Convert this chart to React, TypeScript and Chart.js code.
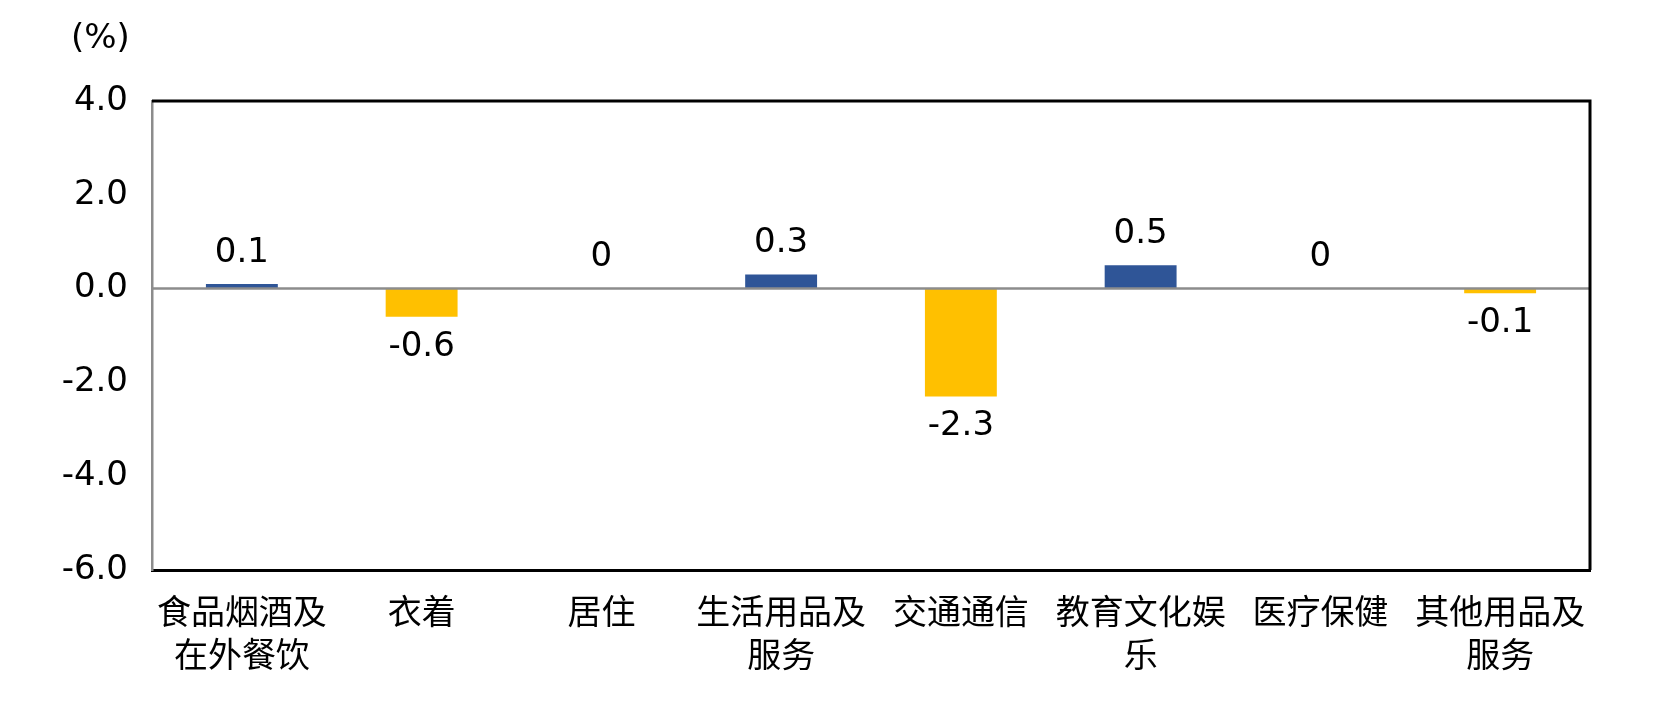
import React, { useEffect, useRef } from "react";
import { Chart, registerables } from "chart.js";

Chart.register(...registerables);

const categories: string[][] = [
  ["食品烟酒及", "在外餐饮"],
  ["衣着"],
  ["居住"],
  ["生活用品及", "服务"],
  ["交通通信"],
  ["教育文化娱", "乐"],
  ["医疗保健"],
  ["其他用品及", "服务"],
];
const values: number[] = [0.1, -0.6, 0, 0.3, -2.3, 0.5, 0, -0.1];
const yMin = -6;
const yMax = 4;
const yStep = 2;
const unitLabel = "(%)";

const BLUE = "#2F5597";
const YELLOW = "#FFC000";
const GRAY = "#8c8c8c";
const NUM_FONT = "DejaVu Sans";
const CJK_FONT = "'Noto Sans CJK SC', 'DejaVu Sans', sans-serif";

const overlayPlugin = {
  id: "overlay",
  afterDatasetsDraw(chart: any) {
    const { ctx, chartArea } = chart;
    const yScale = chart.scales.y;
    const zero = yScale.getPixelForValue(0);
    ctx.save();
    // zero line
    ctx.strokeStyle = GRAY;
    ctx.lineWidth = 2.5;
    ctx.beginPath();
    ctx.moveTo(chartArea.left, zero);
    ctx.lineTo(chartArea.right, zero);
    ctx.stroke();
    // top and right frame
    ctx.strokeStyle = "#000";
    ctx.lineWidth = 3;
    ctx.beginPath();
    ctx.moveTo(chartArea.left, chartArea.top);
    ctx.lineTo(chartArea.right, chartArea.top);
    ctx.lineTo(chartArea.right, chartArea.bottom);
    ctx.stroke();
    // data labels
    const meta = chart.getDatasetMeta(0);
    ctx.fillStyle = "#000";
    ctx.font = `34px ${NUM_FONT}`;
    ctx.textAlign = "center";
    ctx.textBaseline = "middle";
    meta.data.forEach((bar: any, i: number) => {
      const v = values[i];
      const y = v >= 0 ? bar.y - 31 : bar.y + 30;
      ctx.fillText(String(v), bar.x, y);
    });
    // unit label
    ctx.textAlign = "left";
    ctx.fillText(unitLabel, 71, 39);
    ctx.restore();
  },
};

export default function App() {
  const ref = useRef<HTMLCanvasElement>(null);
  useEffect(() => {
    if (!ref.current) return;
    const chart = new Chart(ref.current, {
      type: "bar",
      data: {
        labels: categories,
        datasets: [
          {
            data: values,
            backgroundColor: values.map((v) => (v >= 0 ? BLUE : YELLOW)),
            borderWidth: 0,
            barPercentage: 0.4,
            categoryPercentage: 1,
          },
        ],
      },
      options: {
        animation: false,
        responsive: false,
        devicePixelRatio: 1,
        layout: { padding: { top: 101, right: 71, left: 0, bottom: 0 } },
        plugins: {
          legend: { display: false },
          tooltip: { enabled: false },
          title: { display: false },
        },
        scales: {
          x: {
            grid: { display: false, drawTicks: false },
            border: { display: true, color: "#000", width: 3 },
            ticks: {
              autoSkip: false,
              maxRotation: 0,
              minRotation: 0,
              padding: 20,
              color: "#000",
              font: { family: CJK_FONT, size: 34, lineHeight: 1.26 },
            },
            afterFit(scale: any) {
              scale.height = 135;
            },
          },
          y: {
            min: yMin,
            max: yMax,
            grid: { display: false, drawTicks: false },
            border: { display: true, color: GRAY, width: 2.5 },
            ticks: {
              stepSize: yStep,
              padding: 24,
              color: "#000",
              font: { family: NUM_FONT, size: 34 },
              callback: (v: any) => Number(v).toFixed(1),
            },
            afterFit(scale: any) {
              scale.width = 152;
            },
          },
        },
      },
      plugins: [overlayPlugin],
    });
    return () => chart.destroy();
  }, []);
  return (
    <div style={{ position: "absolute", left: 0, top: 0, width: 1661, height: 705, background: "#fff" }}>
      <canvas ref={ref} width={1661} height={705} style={{ width: 1661, height: 705 }} />
    </div>
  );
}
